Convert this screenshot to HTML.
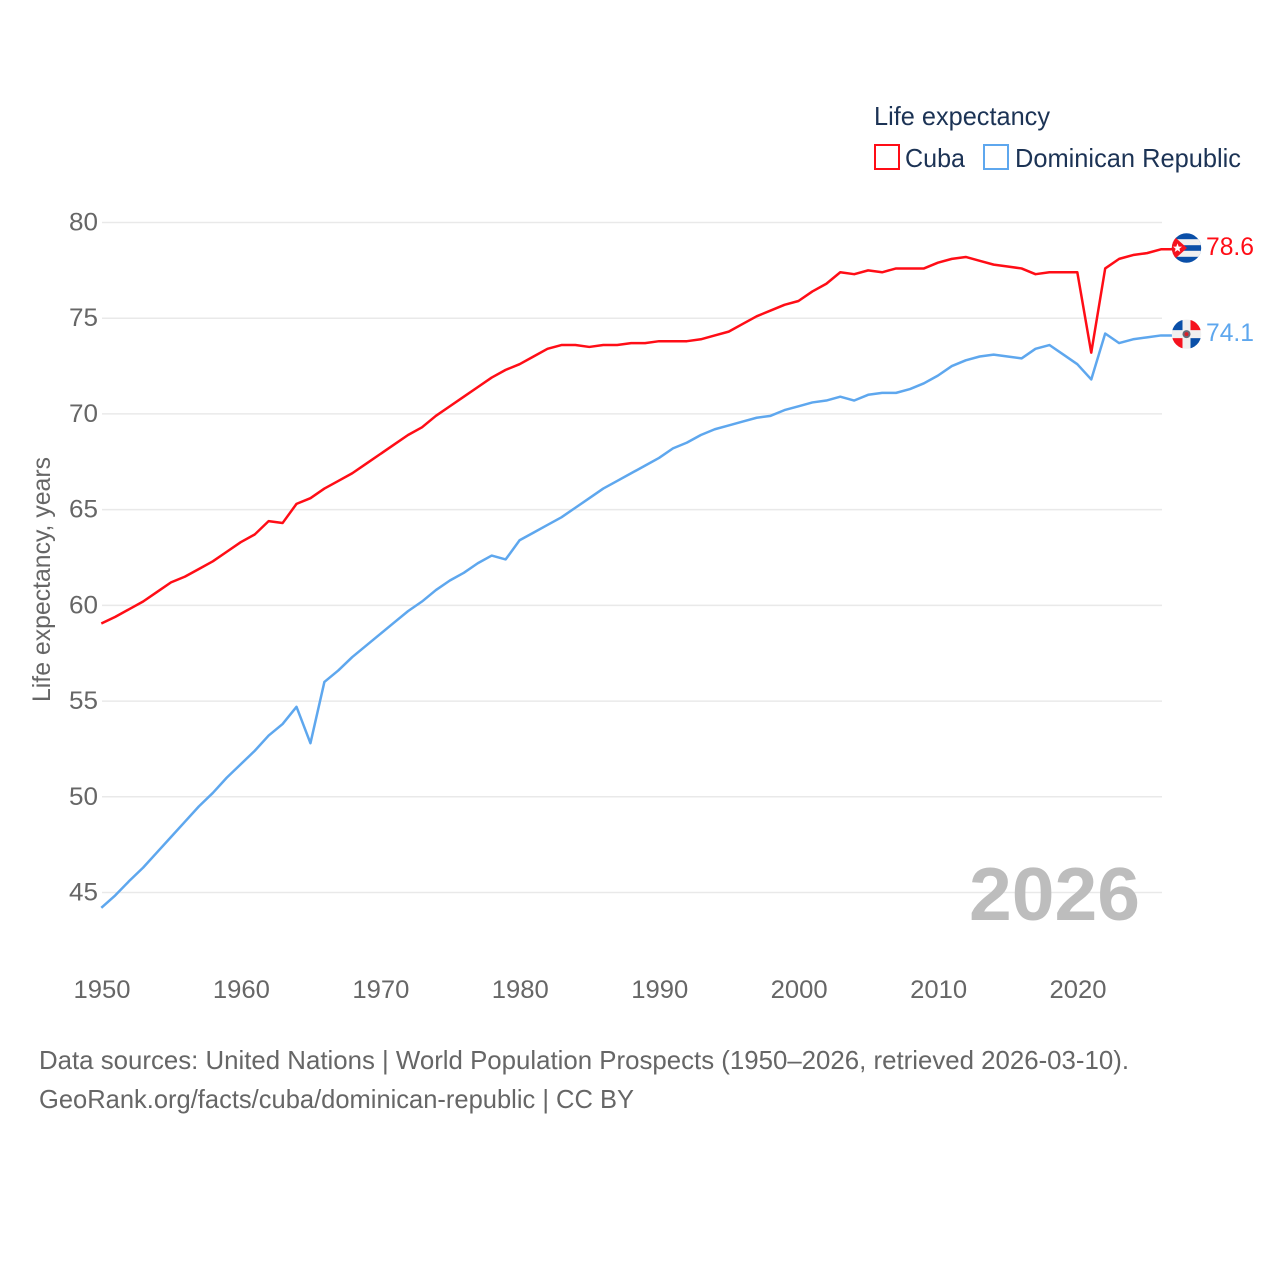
<!DOCTYPE html>
<html lang="en">
<head>
<meta charset="utf-8">
<title>Life expectancy: Cuba and Dominican Republic</title>
<style>
html,body{margin:0;padding:0;background:#fff;}
svg{display:block;}
text{font-family:"Liberation Sans",sans-serif;}
</style>
</head>
<body>
<svg id="chart" xmlns="http://www.w3.org/2000/svg" width="1280" height="1280" viewBox="0 0 1280 1280">
  <defs>
    <clipPath id="flag-clip-cuba"><circle id="clip-cuba" cx="0" cy="0" r="14.7"/></clipPath>
    <clipPath id="flag-clip-dr"><circle id="clip-dr" cx="0" cy="0" r="14.7"/></clipPath>
  </defs>
  <rect x="0" y="0" width="1280" height="1280" fill="#ffffff"/>
  <g id="grid"></g>
  <g id="y-axis"></g>
  <g id="x-axis"></g>
  <text transform="translate(50,702) rotate(-90)" font-size="25" fill="#666666" textLength="245" lengthAdjust="spacingAndGlyphs">Life expectancy, years</text>
  <text x="969" y="920" font-size="75" font-weight="700" fill="#bdbdbd" textLength="171" lengthAdjust="spacingAndGlyphs">2026</text>
  <g id="series"></g>
  <g id="flag-cuba">
    <g clip-path="url(#flag-clip-cuba)">
      <rect x="-15" y="-15" width="30" height="30" fill="#0a4fa8"/>
      <rect x="-15" y="-8.8" width="30" height="6" fill="#f0f0f0"/>
      <rect x="-15" y="2.8" width="30" height="6" fill="#f0f0f0"/>
      <polygon points="-15,-14 -15,14 0.5,0" fill="#f5121e"/>
      <polygon points="-9,-4.6 -7.8,-1.4 -4.5,-1.4 -7.1,0.7 -6.2,4 -9,2.1 -11.8,4 -10.9,0.7 -13.5,-1.4 -10.2,-1.4" fill="#ffffff"/>
    </g>
  </g>
  <g id="flag-dr">
    <g clip-path="url(#flag-clip-dr)">
      <rect x="-15" y="-15" width="30" height="30" fill="#f0f0f0"/>
      <rect x="-15" y="-15" width="11" height="11" fill="#0a4fa8"/>
      <rect x="4" y="-15" width="11" height="11" fill="#f5121e"/>
      <rect x="-15" y="4" width="11" height="11" fill="#f5121e"/>
      <rect x="4" y="4" width="11" height="11" fill="#0a4fa8"/>
      <circle cx="0" cy="0" r="4" fill="#666a78"/>
      <circle cx="0" cy="0" r="2" fill="#d8202a"/>
    </g>
  </g>
  <text id="value-cuba" x="1206" font-size="25" fill="#ff0d16" textLength="48" lengthAdjust="spacingAndGlyphs"></text>
  <text id="value-dr" x="1206" font-size="25" fill="#5ea7ee" textLength="48" lengthAdjust="spacingAndGlyphs"></text>
  <g>
    <text x="874" y="125" font-size="26" fill="#1c3355" textLength="176" lengthAdjust="spacingAndGlyphs">Life expectancy</text>
    <g>
      <rect x="875" y="145" width="24" height="24" fill="none" stroke="#ff0d16" stroke-width="2"/>
      <text x="905" y="167" font-size="26" fill="#1c3355" textLength="60" lengthAdjust="spacingAndGlyphs">Cuba</text>
    </g>
    <g>
      <rect x="984" y="145" width="24" height="24" fill="none" stroke="#5ea7ee" stroke-width="2"/>
      <text x="1015" y="167" font-size="26" fill="#1c3355" textLength="226" lengthAdjust="spacingAndGlyphs">Dominican Republic</text>
    </g>
  </g>
  <text x="39" y="1069" font-size="26" fill="#666666" textLength="1090" lengthAdjust="spacingAndGlyphs">Data sources: United Nations | World Population Prospects (1950–2026, retrieved 2026-03-10).</text>
  <text x="39" y="1108" font-size="26" fill="#666666" textLength="595" lengthAdjust="spacingAndGlyphs">GeoRank.org/facts/cuba/dominican-republic | CC BY</text>
</svg>
<script>
const startYear = 1950;
const xTicks = [1950, 1960, 1970, 1980, 1990, 2000, 2010, 2020];
const yTicks = [45, 50, 55, 60, 65, 70, 75, 80];
const cubaValues = [
  59.05, 59.4, 59.8, 60.2, 60.7, 61.2, 61.5, 61.9, 62.3, 62.8,
  63.3, 63.7, 64.4, 64.3, 65.3, 65.6, 66.1, 66.5, 66.9, 67.4,
  67.9, 68.4, 68.9, 69.3, 69.9, 70.4, 70.9, 71.4, 71.9, 72.3,
  72.6, 73.0, 73.4, 73.6, 73.6, 73.5, 73.6, 73.6, 73.7, 73.7,
  73.8, 73.8, 73.8, 73.9, 74.1, 74.3, 74.7, 75.1, 75.4, 75.7,
  75.9, 76.4, 76.8, 77.4, 77.3, 77.5, 77.4, 77.6, 77.6, 77.6,
  77.9, 78.1, 78.2, 78.0, 77.8, 77.7, 77.6, 77.3, 77.4, 77.4,
  77.4, 73.2, 77.6, 78.1, 78.3, 78.4, 78.6
];
const dominicanValues = [
  44.2, 44.85, 45.6, 46.3, 47.1, 47.9, 48.7, 49.5, 50.2, 51.0,
  51.7, 52.4, 53.2, 53.8, 54.7, 52.8, 56.0, 56.6, 57.3, 57.9,
  58.5, 59.1, 59.7, 60.2, 60.8, 61.3, 61.7, 62.2, 62.6, 62.4,
  63.4, 63.8, 64.2, 64.6, 65.1, 65.6, 66.1, 66.5, 66.9, 67.3,
  67.7, 68.2, 68.5, 68.9, 69.2, 69.4, 69.6, 69.8, 69.9, 70.2,
  70.4, 70.6, 70.7, 70.9, 70.7, 71.0, 71.1, 71.1, 71.3, 71.6,
  72.0, 72.5, 72.8, 73.0, 73.1, 73.0, 72.9, 73.4, 73.6, 73.1,
  72.6, 71.8, 74.2, 73.7, 73.9, 74.0, 74.1
];

const SVG_NS = 'http://www.w3.org/2000/svg';
function xScale(year) { return 101.3 + (year - 1950) * 13.943; }
function yScale(value) { return 222.5 + (80 - value) * 19.143; }

const grid = document.getElementById('grid');
const yAxis = document.getElementById('y-axis');
const xAxis = document.getElementById('x-axis');
const seriesGroup = document.getElementById('series');

yTicks.forEach(function (tick) {
  const line = document.createElementNS(SVG_NS, 'line');
  
  
  line.setAttribute('x1', 102);
  line.setAttribute('x2', 1162);
  line.setAttribute('y1', yScale(tick));
  line.setAttribute('y2', yScale(tick));
  line.setAttribute('stroke', '#e9e9e9');
  line.setAttribute('stroke-width', '1.5');
  grid.appendChild(line);

  const label = document.createElementNS(SVG_NS, 'text');
  
  
  label.setAttribute('x', 69);
  label.setAttribute('y', yScale(tick) + 8);
  label.setAttribute('font-size', '25');
  label.setAttribute('fill', '#666666');
  label.setAttribute('textLength', '29');
  label.setAttribute('lengthAdjust', 'spacingAndGlyphs');
  label.textContent = String(tick);
  yAxis.appendChild(label);
});

xTicks.forEach(function (tick) {
  const label = document.createElementNS(SVG_NS, 'text');
  
  
  label.setAttribute('x', xScale(tick) - 27.8);
  label.setAttribute('y', 998);
  label.setAttribute('font-size', '25');
  label.setAttribute('fill', '#666666');
  label.setAttribute('textLength', '57');
  label.setAttribute('lengthAdjust', 'spacingAndGlyphs');
  label.textContent = String(tick);
  xAxis.appendChild(label);
});

function pathFor(values) {
  const pts = values.map(function (v, i) {
    return xScale(startYear + i).toFixed(2) + ',' + yScale(v).toFixed(2);
  });
  const last = values[values.length - 1];
  pts.push('1172,' + yScale(last).toFixed(2));
  return 'M' + pts.join('L');
}

const cubaLine = document.createElementNS(SVG_NS, 'path');


cubaLine.setAttribute('d', pathFor(cubaValues));
cubaLine.setAttribute('fill', 'none');
cubaLine.setAttribute('stroke', '#ff0d16');
cubaLine.setAttribute('stroke-width', '2.5');
cubaLine.setAttribute('stroke-linejoin', 'round');
seriesGroup.appendChild(cubaLine);

const dominicanLine = document.createElementNS(SVG_NS, 'path');


dominicanLine.setAttribute('d', pathFor(dominicanValues));
dominicanLine.setAttribute('fill', 'none');
dominicanLine.setAttribute('stroke', '#5ea7ee');
dominicanLine.setAttribute('stroke-width', '2.5');
dominicanLine.setAttribute('stroke-linejoin', 'round');
seriesGroup.appendChild(dominicanLine);

function placeEnd(values, flagId, labelId) {
  const last = values[values.length - 1];
  const y = yScale(last) - 1.3;
  document.getElementById(flagId).setAttribute('transform', 'translate(1186.5,' + y.toFixed(2) + ')');
  const label = document.getElementById(labelId);
  label.setAttribute('y', (y + 7).toFixed(2));
  label.textContent = last.toFixed(1);
}
placeEnd(cubaValues, 'flag-cuba', 'value-cuba');
placeEnd(dominicanValues, 'flag-dr', 'value-dr');
</script>
</body>
</html>
